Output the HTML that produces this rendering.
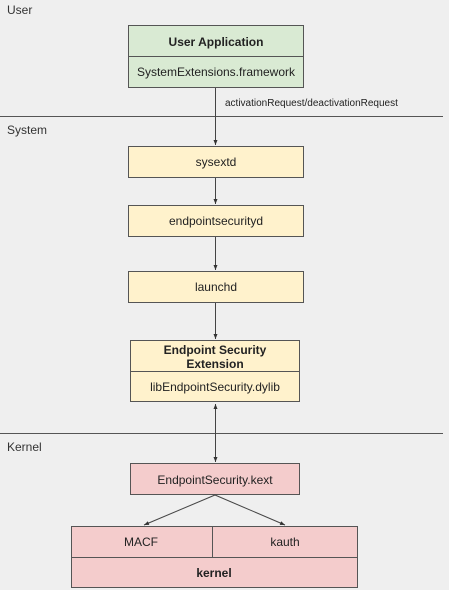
<!DOCTYPE html>
<html><head><meta charset="utf-8"><style>
html,body{margin:0;padding:0;background:#efefef;}
svg{display:block;font-family:"Liberation Sans",Arial,sans-serif;}
</style></head><body>
<svg width="449" height="590" viewBox="0 0 449 590" xmlns="http://www.w3.org/2000/svg">
<defs><marker id="a" markerWidth="6" markerHeight="6" refX="5" refY="3" orient="auto"><path d="M0,1 L5,3 L0,5 z" fill="#333"/></marker></defs>
<rect width="449" height="590" fill="#efefef"/>
<g font-size="12" fill="#333">
<text x="7" y="14">User</text>
<text x="7" y="134">System</text>
<text x="7" y="121" dy="330">Kernel</text>
</g>
<line x1="0" y1="116.5" x2="443" y2="116.5" stroke="#555"/>
<line x1="0" y1="433.5" x2="443" y2="433.5" stroke="#555"/>
<g stroke="#555" stroke-width="1">
<rect x="128.5" y="25.5" width="175" height="62" fill="#d9ead3"/>
<line x1="128.5" y1="56.5" x2="303.5" y2="56.5"/>
<rect x="128.5" y="146.5" width="175" height="31" fill="#fff2cc"/>
<rect x="128.5" y="205.5" width="175" height="31" fill="#fff2cc"/>
<rect x="128.5" y="271.5" width="175" height="31" fill="#fff2cc"/>
<rect x="130.5" y="340.5" width="169" height="61" fill="#fff2cc"/>
<line x1="130.5" y1="371.5" x2="299.5" y2="371.5"/>
<rect x="130.5" y="463.5" width="169" height="31" fill="#f4cccc"/>
<rect x="71.5" y="526.5" width="286" height="61" fill="#f4cccc"/>
<line x1="71.5" y1="557.5" x2="357.5" y2="557.5"/>
<line x1="212.5" y1="526.5" x2="212.5" y2="557.5"/>
</g>
<g stroke="#444" stroke-width="1" fill="none">
<line x1="215.5" y1="88" x2="215.5" y2="145" marker-end="url(#a)"/>
<line x1="215.5" y1="178" x2="215.5" y2="204" marker-end="url(#a)"/>
<line x1="215.5" y1="237" x2="215.5" y2="270" marker-end="url(#a)"/>
<line x1="215.5" y1="303" x2="215.5" y2="339" marker-end="url(#a)"/>
<line x1="215.5" y1="430" x2="215.5" y2="404" marker-end="url(#a)"/>
<line x1="215.5" y1="430" x2="215.5" y2="462" marker-end="url(#a)"/>
<line x1="215" y1="495" x2="144" y2="525" marker-end="url(#a)"/>
<line x1="215" y1="495" x2="285" y2="525" marker-end="url(#a)"/>
</g>
<g font-size="12" fill="#222" text-anchor="middle">
<text x="216" y="46" font-weight="bold">User Application</text>
<text x="216" y="76">SystemExtensions.framework</text>
<text x="216" y="166">sysextd</text>
<text x="216" y="225">endpointsecurityd</text>
<text x="216" y="291">launchd</text>
<text x="215" y="354" font-weight="bold">Endpoint Security</text>
<text x="215" y="368" font-weight="bold">Extension</text>
<text x="215" y="391">libEndpointSecurity.dylib</text>
<text x="215" y="484">EndpointSecurity.kext</text>
<text x="141" y="546">MACF</text>
<text x="285" y="546">kauth</text>
<text x="214" y="577" font-weight="bold">kernel</text>
</g>
<text x="225" y="106" font-size="10" fill="#222">activationRequest/deactivationRequest</text>
</svg>
</body></html>
